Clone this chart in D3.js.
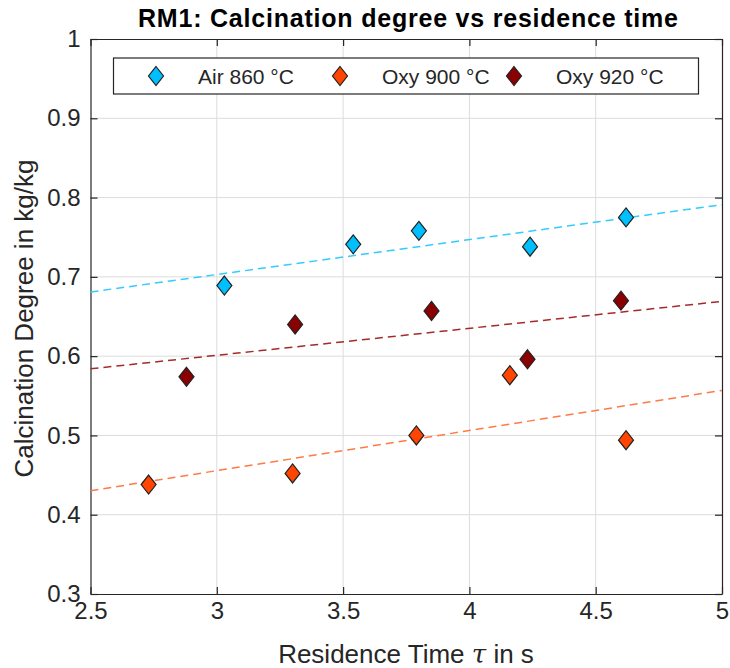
<!DOCTYPE html>
<html>
<head>
<meta charset="utf-8">
<script src="https://cdn.jsdelivr.net/npm/d3@7"></script>
<style>
  body { margin: 0; background: #fff; }
  text { font-family: "Liberation Sans", Arial, Helvetica, sans-serif; fill: #262626; }
</style>
</head>
<body>
<svg id="chart" width="730" height="668"></svg>
<script>
/* data */
var seriesNames = ["Air 860 °C", "Oxy 900 °C", "Oxy 920 °C"];
var seriesColors = ["#00bfff", "#ff4500", "#8b0000"];
var lineColors = ["#33ccff", "#ff7a45", "#a52a2a"];

var airTime = [3.03, 3.54, 3.80, 4.24, 4.62];
var airDegree = [0.689, 0.741, 0.758, 0.738, 0.775];
var oxy900Time = [2.73, 3.30, 3.79, 4.16, 4.62];
var oxy900Degree = [0.438, 0.452, 0.500, 0.576, 0.494];
var oxy920Time = [2.88, 3.31, 3.85, 4.23, 4.60];
var oxy920Degree = [0.574, 0.640, 0.657, 0.596, 0.670];

var xTicks = [2.5, 3, 3.5, 4, 4.5, 5];
var yTicks = [0.3, 0.4, 0.5, 0.6, 0.7, 0.8, 0.9, 1];

var series = [
  { name: seriesNames[0], t: airTime, d: airDegree },
  { name: seriesNames[1], t: oxy900Time, d: oxy900Degree },
  { name: seriesNames[2], t: oxy920Time, d: oxy920Degree }
];

var margin = { left: 90.5, right: 8, top: 39, bottom: 74 };
var svg = d3.select('#chart');
var W = 730, H = 668;

var x = d3.scaleLinear().domain([2.5, 5]).range([margin.left, W - margin.right]);
var y = d3.scaleLinear().domain([0.3, 1]).range([H - margin.bottom, margin.top]);

/* grid */
var grid = svg.append('g');
grid.selectAll('.gx').data(xTicks.slice(1, -1)).enter().append('line')
  .attr('x1', d => x(d)).attr('x2', d => x(d))
  .attr('y1', y(0.3)).attr('y2', y(1))
  .attr('stroke', '#dcdcdc').attr('stroke-width', 1);
grid.selectAll('.gy').data(yTicks.slice(1, -1)).enter().append('line')
  .attr('y1', d => y(d)).attr('y2', d => y(d))
  .attr('x1', x(2.5)).attr('x2', x(5))
  .attr('stroke', '#dcdcdc').attr('stroke-width', 1);

/* axes, ticks inside, mirrored */
var fmt = d3.format('');
var axBottom = svg.append('g').attr('transform', 'translate(0,' + y(0.3) + ')')
  .call(d3.axisBottom(x).tickValues(xTicks).tickSizeInner(-7).tickSizeOuter(0).tickPadding(8).tickFormat(fmt));
var axLeft = svg.append('g').attr('transform', 'translate(' + x(2.5) + ',0)')
  .call(d3.axisLeft(y).tickValues(yTicks).tickSizeInner(-7).tickSizeOuter(0).tickPadding(10).tickFormat(fmt));
var axTop = svg.append('g').attr('transform', 'translate(0,' + y(1) + ')')
  .call(d3.axisTop(x).tickValues(xTicks).tickSizeInner(-7).tickSizeOuter(0).tickFormat(''));
var axRight = svg.append('g').attr('transform', 'translate(' + x(5) + ',0)')
  .call(d3.axisRight(y).tickValues(yTicks).tickSizeInner(-7).tickSizeOuter(0).tickFormat(''));

[axBottom, axLeft, axTop, axRight].forEach(function(a) {
  a.select('.domain').attr('stroke', '#262626').attr('stroke-width', 1.2);
  a.selectAll('.tick line').attr('stroke', '#262626').attr('stroke-width', 1.2);
  a.selectAll('.tick text').style('font-size', '24px').attr('fill', '#262626')
    .style('font-family', '"Liberation Sans", Arial, sans-serif');
});

/* least-squares trend lines */
function fit(t, d) {
  var mt = d3.mean(t), md = d3.mean(d);
  var sxy = d3.sum(t, (v, i) => (v - mt) * (d[i] - md));
  var sxx = d3.sum(t, v => (v - mt) * (v - mt));
  var b = sxy / sxx;
  return function(v) { return md + b * (v - mt); };
}

var line = d3.line().x(p => x(p[0])).y(p => y(p[1]));
series.forEach(function(s, i) {
  var f = fit(s.t, s.d);
  svg.append('path')
    .datum([[2.5, f(2.5)], [5, f(5)]])
    .attr('d', line)
    .attr('fill', 'none')
    .attr('stroke', lineColors[i])
    .attr('stroke-width', 1.5)
    .attr('stroke-dasharray', '8,5');
});

/* diamond markers */
function diamond(cx, cy) {
  var w = 7.5, h = 9.5;
  return 'M' + cx + ',' + (cy - h) + 'L' + (cx + w) + ',' + cy + 'L' + cx + ',' + (cy + h) + 'L' + (cx - w) + ',' + cy + 'Z';
}

series.forEach(function(s, i) {
  svg.append('g').selectAll('path').data(s.t).enter().append('path')
    .attr('d', (v, j) => diamond(x(v), y(s.d[j])))
    .attr('fill', seriesColors[i])
    .attr('stroke', '#222')
    .attr('stroke-width', 1.2);
});

/* legend */
var lg = svg.append('g');
lg.append('rect')
  .attr('x', 113.5).attr('y', 58).attr('width', 585).attr('height', 36)
  .attr('fill', '#fff').attr('stroke', '#262626').attr('stroke-width', 1.2);
var legendX = [156, 340, 514];
series.forEach(function(s, i) {
  lg.append('path').attr('d', diamond(legendX[i], 76))
    .attr('fill', seriesColors[i]).attr('stroke', '#222').attr('stroke-width', 1.2);
  lg.append('text').attr('x', legendX[i] + 42).attr('y', 83.5)
    .style('font-size', '21px').text(s.name);
});

/* title and labels */
svg.append('text').attr('x', 408).attr('y', 27).attr('text-anchor', 'middle')
  .style('font-size', '25px').style('font-weight', 'bold').style('fill', '#000')
  .attr('textLength', 540).attr('lengthAdjust', 'spacing')
  .text('RM1: Calcination degree vs residence time');

var xl = svg.append('text').attr('x', 406).attr('y', 663).attr('text-anchor', 'middle')
  .style('font-size', '26px');
xl.append('tspan').text('Residence Time ');
xl.append('tspan').style('font-style', 'italic').style('font-family', '"DejaVu Serif", serif').text('τ');
xl.append('tspan').text(' in s');

svg.append('text').attr('transform', 'translate(33,' + (y(0.65) + 2) + ') rotate(-90)')
  .attr('text-anchor', 'middle').style('font-size', '26px')
  .text('Calcination Degree in kg/kg');
</script>
</body>
</html>
